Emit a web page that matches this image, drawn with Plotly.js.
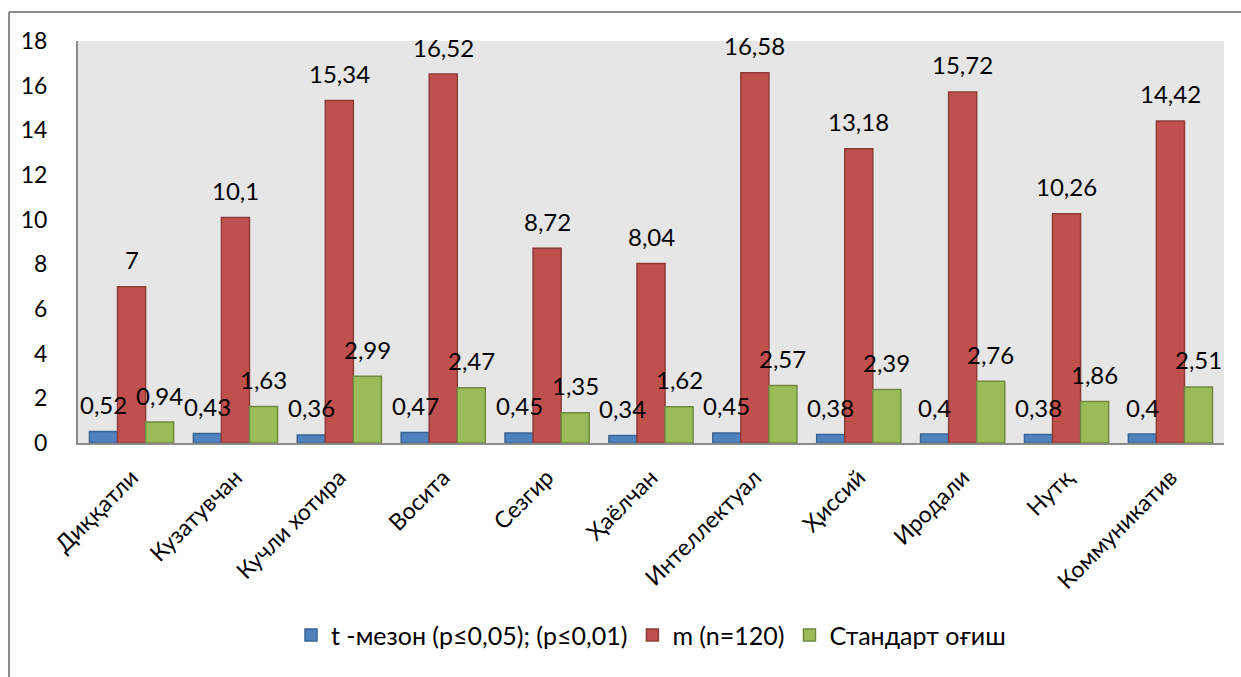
<!DOCTYPE html>
<html>
<head>
<meta charset="utf-8">
<script src="https://cdn.plot.ly/plotly-3.0.1.min.js"></script>
<style>
html,body{margin:0;padding:0;background:#fff;}
#chart{width:1241px;height:677px;}
</style>
</head>
<body>
<div id="chart"></div>
<script>
const categories = ["Диққатли","Кузатувчан","Кучли хотира","Восита","Сезгир","Ҳаёлчан","Интеллектуал","Ҳиссий","Иродали","Нутқ","Коммуникатив"];
const seriesNames = ["t -мезон (p≤0,05); (p≤0,01)", "m (n=120)", "Стандарт оғиш"];
const tValues = [0.52,0.43,0.36,0.47,0.45,0.34,0.45,0.38,0.4,0.38,0.4];
const mValues = [7,10.1,15.34,16.52,8.72,8.04,16.58,13.18,15.72,10.26,14.42];
const sdValues = [0.94,1.63,2.99,2.47,1.35,1.62,2.57,2.39,2.76,1.86,2.51];
const yTicks = [0,2,4,6,8,10,12,14,16,18];

const FONT = "Lato, 'Open Sans', sans-serif";
const fills = ["#4F81BD","#C0504D","#9BBB59"];
const edges = ["#3B6596","#8E3B39","#72893F"];
const seriesValues = [tValues, mValues, sdValues];
const bargap = 0.19;
const barW = (1 - bargap) / 3;

const fmt = v => String(v).replace('.', ',');

const traces = seriesValues.map((vals, k) => ({
  type: 'bar',
  name: seriesNames[k],
  x: categories,
  y: vals,
  marker: {color: fills[k], line: {color: edges[k], width: 1.5}},
  hoverinfo: 'none'
}));

const annotations = [];
seriesValues.forEach((vals, k) => {
  vals.forEach((v, i) => {
    annotations.push({
      x: i + (k - 1) * barW,
      y: v,
      xref: 'x', yref: 'y',
      text: fmt(v),
      showarrow: false,
      yanchor: 'middle',
      xanchor: 'center',
      yshift: 27,
      font: {family: FONT, size: 24, color: '#000'}
    });
  });
});

const layout = {
  width: 1241, height: 677,
  margin: {l: 78, r: 17, t: 41, b: 234},
  paper_bgcolor: '#ffffff',
  plot_bgcolor: '#E6E6E6',
  barmode: 'group',
  bargap: bargap,
  bargroupgap: 0,
  font: {family: FONT, size: 22, color: '#000'},
  showlegend: true,
  legend: {
    orientation: 'h', x: 0.5, xanchor: 'center', y: -0.478, yanchor: 'middle',
    font: {family: FONT, size: 25, color: '#000'},
    traceorder: 'normal', itemwidth: 30
  },
  xaxis: {
    type: 'category',
    tickangle: -45,
    showline: true, linecolor: '#8C8C8C', linewidth: 2,
    showgrid: false, ticks: '', zeroline: false,
    ticklabelstandoff: 10,
    tickfont: {family: FONT, size: 23, color: '#000'}
  },
  yaxis: {
    range: [0, 18],
    tickvals: yTicks,
    ticktext: yTicks.map(String),
    showline: true, linecolor: '#8C8C8C', linewidth: 2,
    showgrid: false, zeroline: false, ticks: '',
    ticklabelstandoff: 24,
    tickfont: {family: FONT, size: 23, color: '#000'}
  },
  annotations: annotations,
  shapes: [
    {type: 'line', xref: 'paper', yref: 'paper', x0: -0.0602, x1: -0.0602, y0: 1.0721, y1: -1.2, line: {color: '#8C8C8C', width: 2}},
    {type: 'line', xref: 'paper', yref: 'paper', x0: -0.0602, x1: 1.2, y0: 1.0721, y1: 1.0721, line: {color: '#8C8C8C', width: 2}}
  ]
};

Plotly.newPlot('chart', traces, layout, {displayModeBar: false, staticPlot: true});
</script>
</body>
</html>
